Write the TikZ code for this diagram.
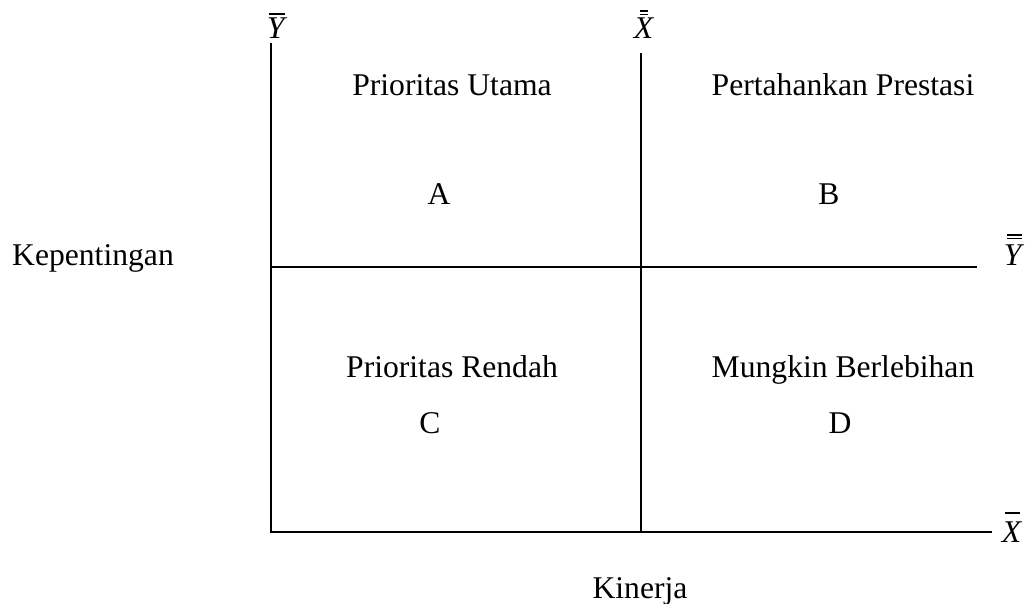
\documentclass[tikz,border=0pt]{standalone}
\usepackage{fontspec}
\setmainfont{Liberation Serif}
\usetikzlibrary{positioning}

\begin{document}
\begin{tikzpicture}[x=0.02cm, y=-0.02cm, font=\fontsize{18}{21}\selectfont,
  axis/.style={line width=1.1pt, color=black},
  barl/.style={line width=0.6pt, color=black},
  lbl/.style={inner sep=0pt, anchor=base}]
\useasboundingbox (0,0) rectangle (1026,604);
% axes and dividers
\coordinate (ytop) at (271,43);
\coordinate (orig) at (271,532);
\coordinate (xend) at (992,532);
\coordinate (mtop) at (641,53);
\coordinate (mbot) at (641,532);
\coordinate (hleft) at (271,267);
\coordinate (hend) at (977,267);
\draw[axis] (ytop)--(orig)--(xend);
\draw[axis] (mtop)--(mbot);
\draw[axis] (hleft)--(hend);
% axis labels
\node[lbl] (ybar) at (277,39) {\textit{Y}};
\draw[barl] (269,14)--(285,14);
\node[lbl] (xbbar) at (644,39) {\textit{X}};
\draw[barl] (640,11)--(648,11) (640,14.5)--(648,14.5);
\node[lbl] (ybbar) at (1014,265) {\textit{Y}};
\draw[barl] (1007,235)--(1022,235) (1007,238.5)--(1022,238.5);
\node[lbl] (xbar) at (1012,542) {\textit{X}};
\draw[barl] (1005,513)--(1020,513);
\node[lbl] (kep) at (93,265) {Kepentingan};
\node[lbl] (kin) at (640,598) {Kinerja};
% quadrants
\node[lbl] (qa) at (452,96) {Prioritas Utama};
\node[lbl] (a) at (439,205) {A};
\node[lbl] (qb) at (843,96) {Pertahankan Prestasi};
\node[lbl] (b) at (829,205) {B};
\node[lbl] (qc) at (452,377) {Prioritas Rendah};
\node[lbl] (c) at (430,433) {C};
\node[lbl] (qd) at (843,377) {Mungkin Berlebihan};
\node[lbl] (d) at (840,433) {D};
\end{tikzpicture}
\end{document}
